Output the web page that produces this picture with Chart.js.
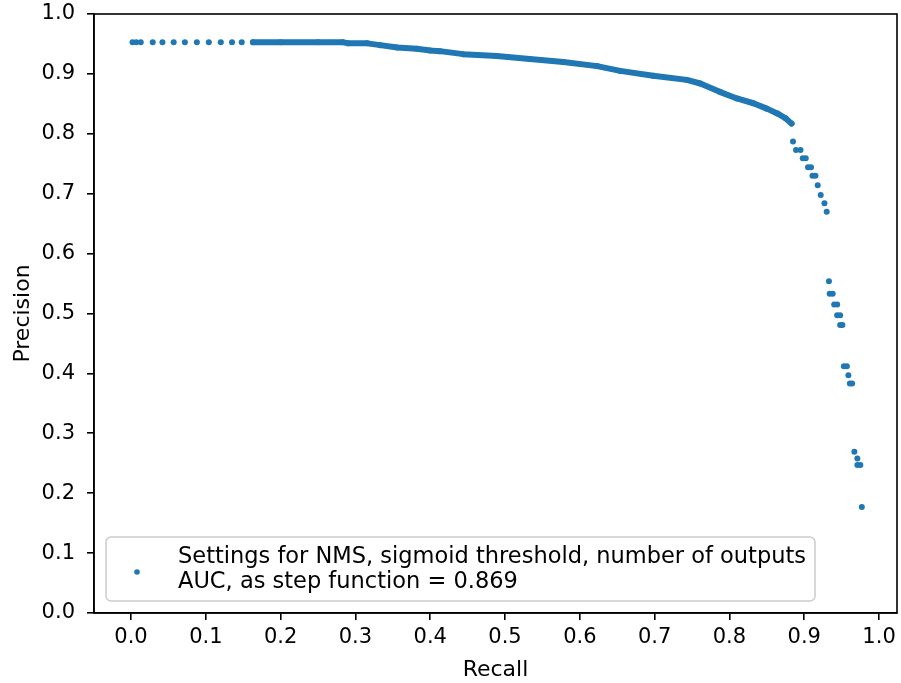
<!DOCTYPE html>
<html>
<head>
<meta charset="utf-8">
<script src="https://cdn.jsdelivr.net/npm/chart.js@4"></script>
<style>
  body { margin: 0; background: #fff; }
  #wrap { width: 901px; height: 683px; position: relative; }
</style>
</head>
<body>
<div id="wrap"><canvas id="chart"></canvas></div>
<script>
// isolated markers (left end of the curve and the sparse tail)
const dotRecall = [0.002, 0.007, 0.013, 0.029, 0.042, 0.057, 0.072, 0.088, 0.104, 0.120, 0.135, 0.148,
    0.885, 0.889, 0.895, 0.898, 0.902, 0.905, 0.909, 0.911, 0.915, 0.918, 0.922, 0.927, 0.930,
    0.933, 0.934, 0.938, 0.940, 0.944, 0.944, 0.948, 0.948, 0.951, 0.953, 0.957, 0.959, 0.961, 0.964,
    0.967, 0.971, 0.971, 0.975, 0.977];
const dotPrecision = [0.953, 0.953, 0.953, 0.953, 0.953, 0.953, 0.953, 0.953, 0.953, 0.953, 0.953, 0.953,
    0.787, 0.773, 0.773, 0.759, 0.759, 0.744, 0.744, 0.730, 0.730, 0.714, 0.698, 0.684, 0.670,
    0.554, 0.533, 0.533, 0.515, 0.515, 0.497, 0.497, 0.481, 0.481, 0.412, 0.412, 0.397, 0.383, 0.383,
    0.269, 0.258, 0.247, 0.247, 0.177];

// dense part of the curve, where the markers merge into a band
const bandRecall = [0.163, 0.200, 0.250, 0.283, 0.290, 0.316, 0.333, 0.356, 0.382, 0.400, 0.413, 0.444,
    0.489, 0.533, 0.578, 0.623, 0.654, 0.698, 0.743, 0.761, 0.787, 0.810, 0.832, 0.850, 0.864, 0.875, 0.883];
const bandPrecision = [0.953, 0.953, 0.953, 0.953, 0.951, 0.951, 0.948, 0.944, 0.942, 0.939, 0.938, 0.933,
    0.930, 0.925, 0.920, 0.913, 0.905, 0.897, 0.890, 0.884, 0.870, 0.859, 0.851, 0.842, 0.834, 0.826, 0.817];

const xTicks = [0.0, 0.1, 0.2, 0.3, 0.4, 0.5, 0.6, 0.7, 0.8, 0.9, 1.0];
const yTicks = [0.0, 0.1, 0.2, 0.3, 0.4, 0.5, 0.6, 0.7, 0.8, 0.9, 1.0];
const legendLines = ['Settings for NMS, sigmoid threshold, number of outputs', 'AUC, as step function = 0.869'];

const blue = '#1f77b4';
const font = 'DejaVu Sans';

const toPoints = (xs, ys) => xs.map((x, i) => ({ x: x, y: ys[i] }));

// full box around the axes, plus the matplotlib-like legend
const framePlugin = {
    id: 'frame',
    afterDraw(chart) {
        const ctx = chart.ctx;
        const a = chart.chartArea;
        ctx.save();
        // legend box
        const bx = a.left + 12, by = a.bottom - 76, bw = 709, bh = 64, r = 5;
        ctx.beginPath();
        ctx.roundRect(bx, by, bw, bh, r);
        ctx.fillStyle = 'rgba(255,255,255,0.8)';
        ctx.fill();
        ctx.strokeStyle = '#cccccc';
        ctx.lineWidth = 1.5;
        ctx.stroke();
        ctx.beginPath();
        ctx.arc(bx + 31, by + 35, 2.8, 0, Math.PI * 2);
        ctx.fillStyle = blue;
        ctx.fill();
        ctx.fillStyle = '#000';
        ctx.font = '22.5px "' + font + '"';
        ctx.textBaseline = 'alphabetic';
        ctx.fillText(legendLines[0], bx + 72, by + 26);
        ctx.fillText(legendLines[1], bx + 72, by + 51);
        // top and right spines
        ctx.strokeStyle = '#000';
        ctx.lineWidth = 1.6;
        ctx.strokeRect(a.left, a.top, a.right - a.left, a.bottom - a.top);
        ctx.restore();
    }
};

const config = {
    type: 'scatter',
    data: {
        datasets: [{
            label: 'band',
            data: toPoints(bandRecall, bandPrecision),
            showLine: true,
            borderColor: blue,
            borderWidth: 6,
            borderCapStyle: 'round',
            borderJoinStyle: 'round',
            backgroundColor: blue,
            pointRadius: 3,
            pointBorderWidth: 0,
            tension: 0
        }, {
            label: legendLines[0],
            data: toPoints(dotRecall, dotPrecision),
            backgroundColor: blue,
            borderColor: blue,
            pointRadius: 3,
            pointBorderWidth: 0
        }]
    },
    options: {
        responsive: true,
        maintainAspectRatio: false,
        animation: false,
        layout: { padding: { top: 14, right: 4, left: 0, bottom: 0 } },
        plugins: {
            legend: { display: false },
            tooltip: { enabled: false }
        },
        scales: {
            x: {
                type: 'linear',
                min: -0.0495,
                max: 1.024,
                afterBuildTicks: (s) => { s.ticks = xTicks.map(v => ({ value: v })); },
                afterFit: (s) => { s.height = 70; s.paddingLeft = 0; s.paddingRight = 0; },
                ticks: {
                    color: '#000',
                    font: { family: font, size: 21 },
                    padding: 5,
                    maxRotation: 0,
                    callback: (v) => v.toFixed(1)
                },
                grid: { drawOnChartArea: false, drawTicks: true, tickLength: 7, color: '#000', lineWidth: 1.6 },
                border: { display: true, color: '#000', width: 1.6 },
                title: { display: true, text: 'Recall', color: '#000', font: { family: font, size: 22 }, padding: { top: 0, bottom: 0 } }
            },
            y: {
                type: 'linear',
                min: 0,
                max: 1,
                afterBuildTicks: (s) => { s.ticks = yTicks.map(v => ({ value: v })); },
                afterFit: (s) => { s.width = 94; s.paddingTop = 0; s.paddingBottom = 0; },
                ticks: {
                    color: '#000',
                    font: { family: font, size: 21 },
                    padding: 12,
                    callback: (v) => v.toFixed(1)
                },
                grid: { drawOnChartArea: false, drawTicks: true, tickLength: 7, color: '#000', lineWidth: 1.6 },
                border: { display: true, color: '#000', width: 1.6 },
                title: { display: true, text: 'Precision', color: '#000', font: { family: font, size: 22 }, padding: { top: 10, bottom: 0 } }
            }
        }
    },
    plugins: [framePlugin]
};

new Chart(document.getElementById('chart'), config);
</script>
</body>
</html>
